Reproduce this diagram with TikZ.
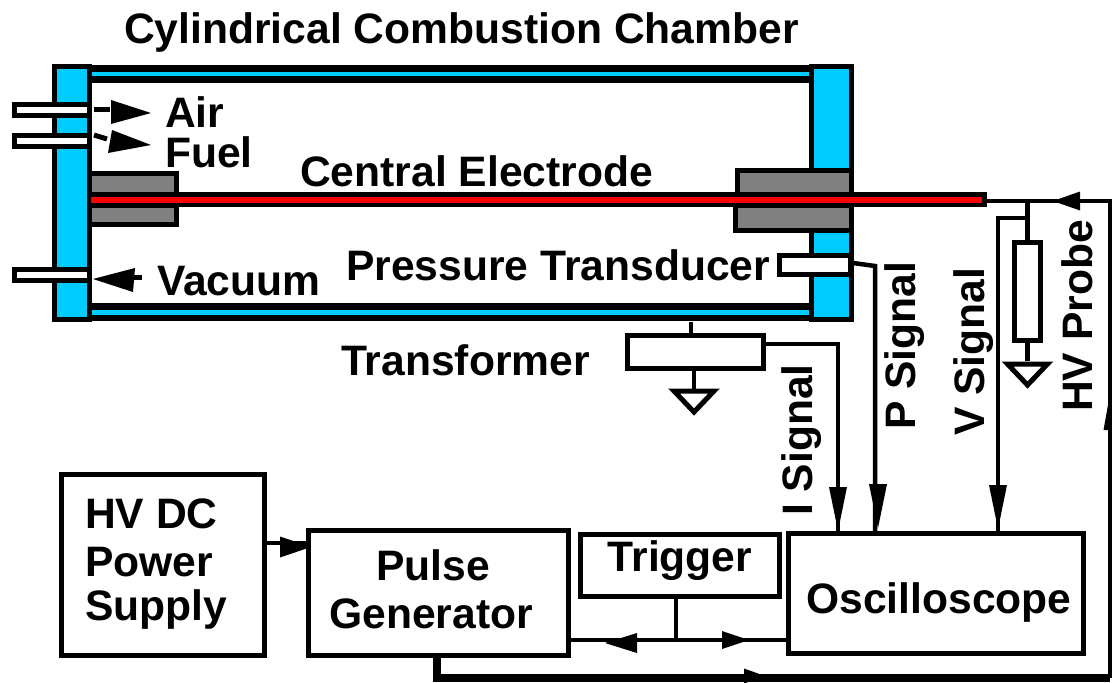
\documentclass[tikz,border=0pt]{standalone}
\usepackage{fontspec}
\setmainfont{Liberation Sans}
\definecolor{flange}{RGB}{0,204,255}
\definecolor{rod}{RGB}{255,0,0}
\definecolor{bush}{RGB}{128,128,128}
\tikzset{
    box/.style={
        rectangle,
        draw,
        line width=5pt,
        outer sep=0pt,
        inner sep=0pt
    },
    wire/.style={
        line width=4.5pt
    },
    tag/.style={
        font=\fontsize{42.6}{46}\bfseries\selectfont,
        inner sep=0pt,
        anchor=base west
    },
    vtag/.style={
        tag,
        rotate=90
    }
}
% #1,#2 tip, #3 angle, #4 length, #5 width
\newcommand{\head}[5] {
    \fill[shift={(#1,#2)},rotate=#3] (0,0) -- (-#4,#5/2) -- (-#4,-#5/2) -- cycle;
}
\newcommand{\ground}[2] {
    \draw[line width=5pt,miter limit=10] ({#1-20},{#2+2}) -- ({#1+20},{#2+2}) -- ({#1},{#2+23}) -- cycle;
}
\begin{document}
\begin{tikzpicture}[x=1pt,y=-1pt]
    \useasboundingbox (0,0) rectangle (1112,683);

    % chamber
    \foreach \ya/\yb in {68.5/79.5,306.5/318} {
        \draw[line width=6.5pt,fill=flange] (89,\ya) rectangle (812,\yb);
    }
    \draw[line width=5pt,fill=flange] (54.5,66.5) rectangle (89,319.5);
    \draw[line width=5pt,fill=flange] (811.5,66.5) rectangle (851,319.5);
    \foreach \y in {109.5,141,275} {
        \draw[line width=5pt,fill=white] (14.5,{\y-5.5}) rectangle (89,{\y+5.5});
    }
    \draw[line width=5pt,fill=white] (779.5,255.5) rectangle (850,274.5);
    \draw[line width=5pt,fill=bush] (89,173.5) rectangle (176,194);
    \draw[line width=5pt,fill=bush] (89,205) rectangle (176,224.5);
    \draw[line width=5pt,fill=bush] (737,170.5) rectangle (851,194);
    \draw[line width=5pt,fill=bush] (735,205) rectangle (851,230.5);
    \draw[line width=15pt] (89,199.5) -- (987,199.5);
    \draw[line width=6pt,rod] (91,199.5) -- (982,199.5);
    \coordinate (rodend) at (985,201);

    % gas lines
    \draw[line width=5pt] (94,109.5) -- (110,109.5);
    \fill (111,100) -- (151,113) -- (111,124) -- cycle;
    \draw[line width=5pt] (94,135) -- (107,139);
    \fill (112,130) -- (151,145) -- (108,153) -- cycle;
    \draw[line width=5pt] (130,277) -- (142,277);
    \fill (93,279) -- (135,268) -- (133,292) -- cycle;

    \node[tag] (title) at (124,43) {Cylindrical Combustion Chamber};
    \node[tag] (air) at (165,127) {Air};
    \node[tag] (fuel) at (165,167) {Fuel};
    \node[tag] (vacuum) at (157,295) {Vacuum};
    \node[tag] (electrode) at (300,186) {Central Electrode};
    \node[tag] (pressure) at (346,280) {Pressure Transducer};
    \node[tag] (transformerlabel) at (341,375) {Transformer};

    \node[box,minimum width=136pt,minimum height=33pt] (transformer) at (695.5,352) {};
    \node[box,minimum width=26pt,minimum height=98pt] (probe) at (1027.5,291.5) {};
    \node[box,minimum width=203pt,minimum height=181pt] (supply) at (163,565) {};
    \node[box,minimum width=260pt,minimum height=125pt] (pulse) at (438,593) {};
    \node[box,minimum width=199pt,minimum height=62pt] (trigger) at (680,565.5) {};
    \node[box,minimum width=295pt,minimum height=120pt] (scope) at (936,593.5) {};

    \node[tag] (supplya) at (85,528) {HV DC};
    \node[tag] (supplyb) at (85,576) {Power};
    \node[tag] (supplyc) at (85,620) {Supply};
    \node[tag,anchor=base] (pulsea) at (433,580) {Pulse};
    \node[tag,anchor=base] (pulseb) at (431,628) {Generator};
    \node[tag,anchor=base] (triggerlabel) at (680,571) {Trigger};
    \node[tag,anchor=base] (scopelabel) at (939,613) {Oscilloscope};

    \node[vtag] (isignal) at (812,516) {I Signal};
    \node[vtag] (psignal) at (915,430) {P Signal};
    \node[vtag] (vsignal) at (984,436) {V Signal};
    \node[vtag] (hvprobe) at (1092,412) {HV Probe};

    % signals
    \coordinate (itop) at (838,344);
    \coordinate (ptop) at (875,266);
    \coordinate (pport) at (853,263);
    \coordinate (vtop) at (998,218);
    \coordinate (probetop) at (1027.5,201);
    \coordinate (hvtop) at (1110,201);
    \coordinate (hvlow) at (1110,678);
    \coordinate (pulselow) at (437,678);
    \coordinate (wallbot) at (691,322);
    \coordinate (trigjoin) at (676,640);
    \coordinate (gnda) at (694,390);
    \coordinate (gndb) at (1027.5,361);

    \draw[wire] (transformer.east|-itop) -- (itop) -- (itop|-scope.north);
    \draw[wire] (pport) -- (ptop) -- (ptop|-scope.north);
    \draw[wire] (probetop|-vtop) -- (vtop) -- (vtop|-scope.north);
    \draw[wire] (rodend) -- (probetop) -- (probe.north);
    \draw[wire] (probe.south) -- (gndb);
    \draw[wire] (wallbot) -- (wallbot|-transformer.north);
    \draw[wire] (transformer.south-|gnda) -- (gnda);
    \ground{694}{389}
    \ground{1027.5}{362}
    \draw[wire] (probetop) -- (hvtop) -- (hvlow);
    \draw[line width=8pt] (pulse.south-|pulselow) -- (pulselow) -- (hvlow);
    \draw[wire] (supply.east|-0,543) -- (pulse.west|-0,543);
    \draw[wire] (pulse.east|-trigjoin) -- (scope.west|-trigjoin);
    \draw[wire] (trigger.south-|trigjoin) -- (trigjoin);

    \head{838}{531}{270}{44}{18}
    \head{878}{528}{270}{44}{18}
    \head{998}{529}{270}{44}{18}
    \head{1053}{201}{180}{27}{19}
    \head{1108}{405}{90}{25}{9}
    \head{311}{547}{0}{31}{21}
    \head{605}{643}{180}{32}{20}
    \head{749}{640}{0}{27}{18}
    \head{765}{676}{0}{21}{15}
\end{tikzpicture}
\end{document}
